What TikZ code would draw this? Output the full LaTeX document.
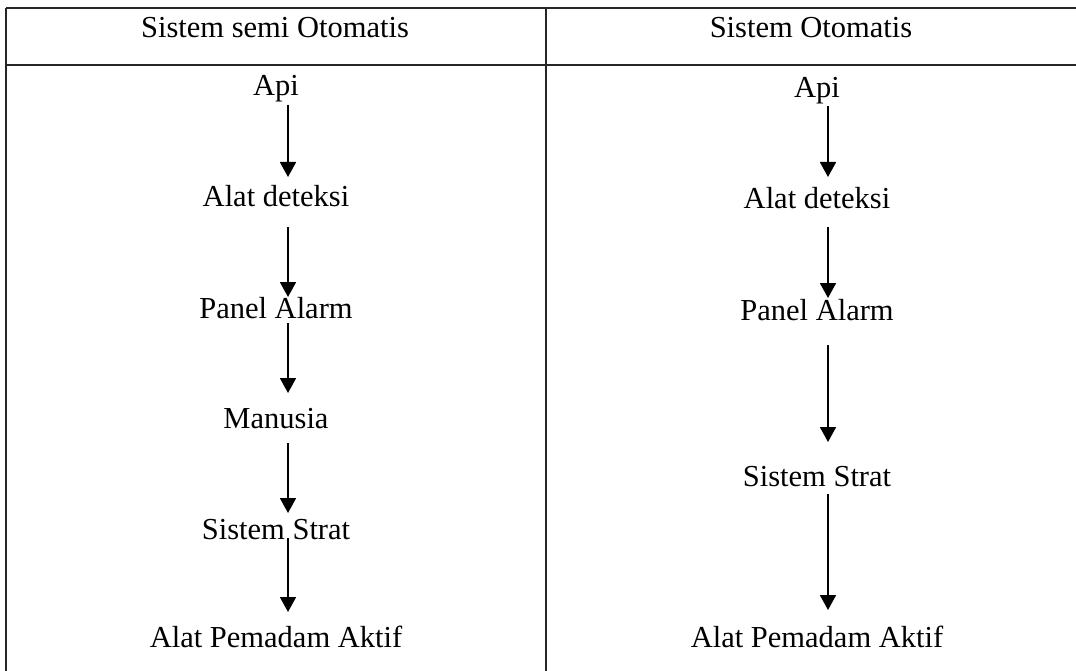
\documentclass[tikz,border=0pt]{standalone}
\usepackage{fontspec}
\setmainfont{Liberation Serif}
\usetikzlibrary{arrows.meta}
\begin{document}
\begin{tikzpicture}[x=1pt,y=-1pt,
  lbl/.style={anchor=base,inner sep=0pt,font=\fontsize{30.5}{36}\selectfont},
  rule/.style={line width=1.6pt,black!85},
  flow/.style={line width=1.8pt,-{Triangle[width=16pt,length=15pt]}}]
\useasboundingbox (0,0) rectangle (1076,671);
% table rules
\draw[rule] (6,8) -- (1076,8);
\draw[rule] (6,65) -- (1076,65);
\draw[rule] (6,8) -- (6,671);
\draw[rule] (546,8) -- (546,671);
% headers
\node[lbl] (hl) at (275,38) {Sistem semi Otomatis};
\node[lbl] (hr) at (811,38) {Sistem Otomatis};
% semi-automatic chain
\node[lbl] (la) at (276,96)  {Api};
\node[lbl] (lb) at (276,207) {Alat deteksi};
\node[lbl] (lc) at (276,318) {Panel Alarm};
\node[lbl] (ld) at (276,428) {Manusia};
\node[lbl] (le) at (276,539) {Sistem Strat};
\node[lbl] (lf) at (276,647) {Alat Pemadam Aktif};
\draw[flow] ([xshift=12,yshift=-9]la.base)  -- ([xshift=12,yshift=30]lb.base);
\draw[flow] ([xshift=12,yshift=-20]lb.base) -- ([xshift=12,yshift=21]lc.base);
\draw[flow] ([xshift=12,yshift=-5]lc.base)  -- ([xshift=12,yshift=35]ld.base);
\draw[flow] ([xshift=12,yshift=-15]ld.base) -- ([xshift=12,yshift=26]le.base);
\draw[flow] ([xshift=12,yshift=1]le.base)   -- ([xshift=12,yshift=35]lf.base);
% automatic chain
\node[lbl] (ra) at (817,98)  {Api};
\node[lbl] (rb) at (817,209) {Alat deteksi};
\node[lbl] (rc) at (817,320) {Panel Alarm};
\node[lbl] (rd) at (817,486) {Sistem Strat};
\node[lbl] (re) at (817,647) {Alat Pemadam Aktif};
\draw[flow] ([xshift=11,yshift=-8]ra.base)  -- ([xshift=11,yshift=32]rb.base);
\draw[flow] ([xshift=11,yshift=-18]rb.base) -- ([xshift=11,yshift=22]rc.base);
\draw[flow] ([xshift=11,yshift=-25]rc.base) -- ([xshift=11,yshift=44]rd.base);
\draw[flow] ([xshift=11,yshift=-8]rd.base)  -- ([xshift=11,yshift=37]re.base);
\end{tikzpicture}
\end{document}
